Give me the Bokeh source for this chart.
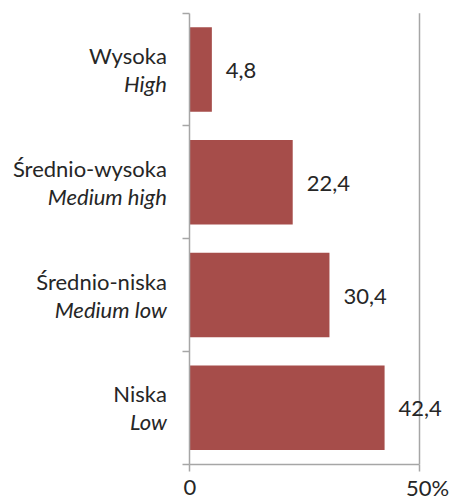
from bokeh.plotting import figure
from bokeh.models import LinearAxis, FixedTicker, Range1d, ColumnDataSource
from bokeh.core.properties import value
from bokeh.embed import file_html
from bokeh.resources import INLINE

# ---- data ----
categories_pl = ["Wysoka", "Średnio-wysoka", "Średnio-niska", "Niska"]
categories_en = ["High", "Medium high", "Medium low", "Low"]
shares = [4.8, 22.4, 30.4, 42.4]
share_labels = ["4,8", "22,4", "30,4", "42,4"]
x_ticks = [0, 50]
x_tick_labels = ["0", "50%"]

FONT = "Lato"
FS = "22px"
TXT = "#262626"
AX = "#a6a6a6"
BAR = "#a64d4a"

n = len(categories_pl)
ypos = [n - i - 0.5 for i in range(n)]

W, H = 449, 500
p = figure(width=W, height=H, output_backend="svg", toolbar_location=None,
           x_axis_location=None, y_axis_location=None,
           x_range=Range1d(-41.21, 56.53), y_range=Range1d(-0.322, 4.1126),
           min_border=0, outline_line_color=None)
p.grid.visible = False

src = ColumnDataSource(dict(y=ypos, v=shares, lab=share_labels,
                            pl=categories_pl, en=categories_en,
                            zero=[0] * n))

p.hbar(y="y", left="zero", right="v", height=0.75, source=src,
       fill_color=BAR, line_color=None)

# vertical gridline at the max tick
p.segment(x0=[x_ticks[-1]], y0=[0], x1=[x_ticks[-1]], y1=[n],
          line_color=AX, line_width=1.5)

# category axis
yax = LinearAxis(fixed_location=0, bounds=(0, n),
                 ticker=FixedTicker(ticks=list(range(n + 1)), minor_ticks=[]),
                 major_tick_out=7, major_tick_in=0,
                 major_label_text_alpha=0, major_label_text_font_size="1px",
                 axis_line_color=AX, axis_line_width=1.5,
                 major_tick_line_color=AX, major_tick_line_width=1.5)
p.add_layout(yax, "left")

# value axis (labels drawn as text below)
xax = LinearAxis(fixed_location=0, bounds=(x_ticks[0], x_ticks[-1]),
                 ticker=FixedTicker(ticks=x_ticks, minor_ticks=[]),
                 major_tick_out=7, major_tick_in=0,
                 major_label_text_alpha=0, major_label_text_font_size="1px",
                 axis_line_color=AX, axis_line_width=1.5,
                 major_tick_line_color=AX, major_tick_line_width=1.5)
p.add_layout(xax, "below")

tick_src = ColumnDataSource(dict(x=x_ticks, y=[0] * len(x_ticks),
                                 t=x_tick_labels, dx=[0, 8]))
p.text(x="x", y="y", text="t", source=tick_src, x_offset="dx", y_offset=23,
       text_align="center", text_baseline="alphabetic",
       text_font=value(FONT), text_font_size=FS, text_color=TXT)

# value labels
p.text(x="v", y="y", text="lab", source=src, x_offset=14, y_offset=1,
       text_align="left", text_baseline="alphabetic",
       text_font=value(FONT), text_font_size=FS, text_color=TXT)

# category labels (two lines)
p.text(x="zero", y="y", text="pl", source=src, x_offset=-23, y_offset=-14,
       text_align="right", text_baseline="alphabetic",
       text_font=value(FONT), text_font_size=FS, text_color=TXT)
p.text(x="zero", y="y", text="en", source=src, x_offset=-23, y_offset=14,
       text_align="right", text_baseline="alphabetic",
       text_font=value(FONT), text_font_size=FS, text_color=TXT,
       text_font_style="italic")

open("out.html", "w").write(file_html(p, INLINE))
